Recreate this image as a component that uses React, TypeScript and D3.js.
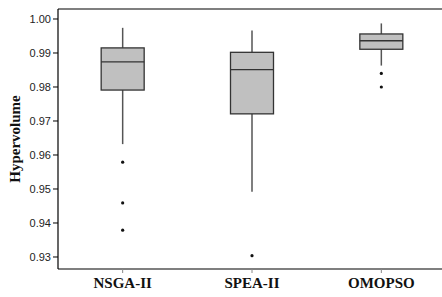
import * as d3 from "d3";

const algorithms = ["NSGA-II", "SPEA-II", "OMOPSO"];
// [whiskerLow, q1, median, q3, whiskerHigh]
const boxStats = [
  [0.9632, 0.9791, 0.9874, 0.9915, 0.9974],
  [0.9492, 0.9721, 0.9851, 0.9902, 0.9966],
  [0.9863, 0.9911, 0.9936, 0.9956, 0.9987],
];
const outliers = [
  [0.9579, 0.9459, 0.9379],
  [0.9304],
  [0.984, 0.98],
];
const yTicks = [0.93, 0.94, 0.95, 0.96, 0.97, 0.98, 0.99, 1.0];

export default function App() {
  const width = 442;
  const height = 297;
  const left = 58;
  const top = 9;
  const bottom = 269;
  const right = 446;

  const x = d3.scaleBand().domain(algorithms).range([left, right]).padding(0);
  const y = d3.scaleLinear().domain([0.92647, 1.00294]).range([bottom, top]);
  const boxW = 43;

  return (
    <svg
      width={width}
      height={height}
      style={{ position: "absolute", left: 0, top: 0, background: "#fff" }}
    >
      {/* frame */}
      <line x1={left} x2={width} y1={top} y2={top} stroke="#000" strokeWidth={1.2} />
      <line x1={left} x2={left} y1={top} y2={bottom} stroke="#000" strokeWidth={1.2} />
      <line x1={left} x2={width} y1={bottom} y2={bottom} stroke="#000" strokeWidth={1.2} />

      {yTicks.map((t) => (
        <g key={`yt-${t}`} transform={`translate(0,${y(t)})`}>
          <line x1={left - 5} x2={left} stroke="#000" strokeWidth={1} />
          <text
            x={left - 7}
            dy="0.35em"
            textAnchor="end"
            fontFamily="Liberation Sans, Arial, sans-serif"
            fontSize={11}
            fill="#222"
          >
            {d3.format(".2f")(t)}
          </text>
        </g>
      ))}

      {algorithms.map((a, i) => {
        const cx = (x(a) as number) + x.bandwidth() / 2;
        const [lo, q1, med, q3, hi] = boxStats[i];
        return (
          <g key={`box-${a}`}>
            <line x1={cx} x2={cx} y1={bottom} y2={bottom + 4} stroke="#888" strokeWidth={1} />
            <line x1={cx} x2={cx} y1={y(hi)} y2={y(q3)} stroke="#555" strokeWidth={1.5} />
            <line x1={cx} x2={cx} y1={y(q1)} y2={y(lo)} stroke="#555" strokeWidth={1.5} />
            <rect
              x={cx - boxW / 2}
              y={y(q3)}
              width={boxW}
              height={y(q1) - y(q3)}
              fill="#c0c0c0"
              stroke="#333"
              strokeWidth={1.3}
            />
            <line
              x1={cx - boxW / 2}
              x2={cx + boxW / 2}
              y1={y(med)}
              y2={y(med)}
              stroke="#333"
              strokeWidth={1.3}
            />
            {outliers[i].map((o, j) => (
              <circle key={`o-${a}-${j}`} cx={cx} cy={y(o)} r={1.6} fill="#111" />
            ))}
            <text
              x={cx}
              y={288}
              textAnchor="middle"
              fontFamily="Liberation Serif, Times New Roman, serif"
              fontWeight="bold"
              fontSize={15}
              fill="#111"
            >
              {a}
            </text>
          </g>
        );
      })}

      <text
        transform={`translate(20,${(top + bottom) / 2}) rotate(-90)`}
        textAnchor="middle"
        fontFamily="Liberation Serif, Times New Roman, serif"
        fontWeight="bold"
        fontSize={15}
        fill="#111"
      >
        Hypervolume
      </text>
    </svg>
  );
}
